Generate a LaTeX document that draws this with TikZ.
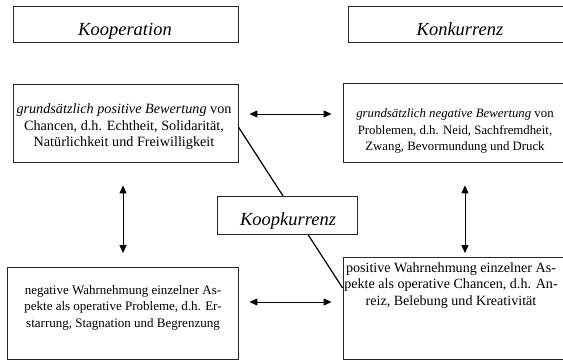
\documentclass[tikz,border=0pt]{standalone}
\usepackage{fontspec}
\setmainfont{Liberation Serif}
\usetikzlibrary{arrows.meta}

\tikzset{
  box/.style={draw=black!85, line width=0.8pt, fill=white, inner sep=0pt},
  headtext/.style={anchor=base, font=\fontsize{18.5}{22}\selectfont\itshape},
  bodytext/.style={align=center, inner sep=0pt, font=\fontsize{#1}{16.5}\selectfont},
  bodytext/.default=13,
  twoway/.style={{Triangle[length=8pt,width=7pt]}-{Triangle[length=8pt,width=7pt]}, line width=0.9pt},
}

\begin{document}
\begin{tikzpicture}[x=1pt, y=-1pt]
  \clip (0,0) rectangle (563,361);

  % Headers
  \node[box, minimum width=225pt, minimum height=36pt] (koop) at (125.5,24) {};
  \node[headtext] (kooptext) at (125,36) {Kooperation};
  \node[box, minimum width=218pt, minimum height=36pt] (konk) at (457,24) {};
  \node[headtext] (konktext) at (460,36) {Konkurrenz};

  % Middle row
  \node[box, minimum width=225pt, minimum height=78pt] (lm) at (125.5,123) {};
  \node[bodytext=14.2] (lmtext) at (124,127) {\textit{grundsätzlich positive Bewertung} von\\ Chancen, d.h. Echtheit, Solidarität,\\ Natürlichkeit und Freiwilligkeit};
  \node[box, minimum width=222pt, minimum height=79pt] (rm) at (454,122.5) {};
  \node[bodytext=12.8] (rmtext) at (455,131) {\textit{grundsätzlich negative Bewertung} von\\ Problemen, d.h. Neid, Sachfremdheit,\\ Zwang, Bevormundung und Druck};

  % Bottom row
  \node[box, minimum width=231pt, minimum height=92pt] (lb) at (122.5,313.5) {};
  \node[bodytext=13] (lbtext) at (123,307.5) {negative Wahrnehmung einzelner As-\\ pekte als operative Probleme, d.h. Er-\\ starrung, Stagnation und Begrenzung};
  \node[box, minimum width=222pt, minimum height=102pt] (rb) at (454,308.5) {};
  \node[bodytext=14.1] (rbtext) at (451,285.5) {positive Wahrnehmung einzelner As-\\ pekte als operative Chancen, d.h. An-\\ reiz, Belebung und Kreativität};

  % Connectors
  \draw[twoway, shorten <=11pt, shorten >=11pt] ([yshift=9pt]lm.east) -- ([yshift=9pt]lm.east -| rm.west);
  \draw[twoway, shorten <=11pt, shorten >=11pt] ([yshift=11.5pt]lb.east) -- ([yshift=11.5pt]lb.east -| rb.west);
  \draw[twoway, shorten <=23pt, shorten >=14pt] ([xshift=-2.5pt]lm.south) -- ([xshift=-2.5pt]lm.south |- lb.north);
  \draw[twoway, shorten <=23pt, shorten >=4pt] ([xshift=11pt]rm.south) -- ([xshift=11pt]rm.south |- rb.north);
  \draw[line width=1.2pt] ([yshift=-4pt]lm.east) -- ([yshift=20.5pt]rb.west);

  % Koopkurrenz
  \node[box, minimum width=140pt, minimum height=38pt] (kk) at (287,215) {};
  \node[headtext] (kktext) at (288,225) {Koopkurrenz};
\end{tikzpicture}
\end{document}
